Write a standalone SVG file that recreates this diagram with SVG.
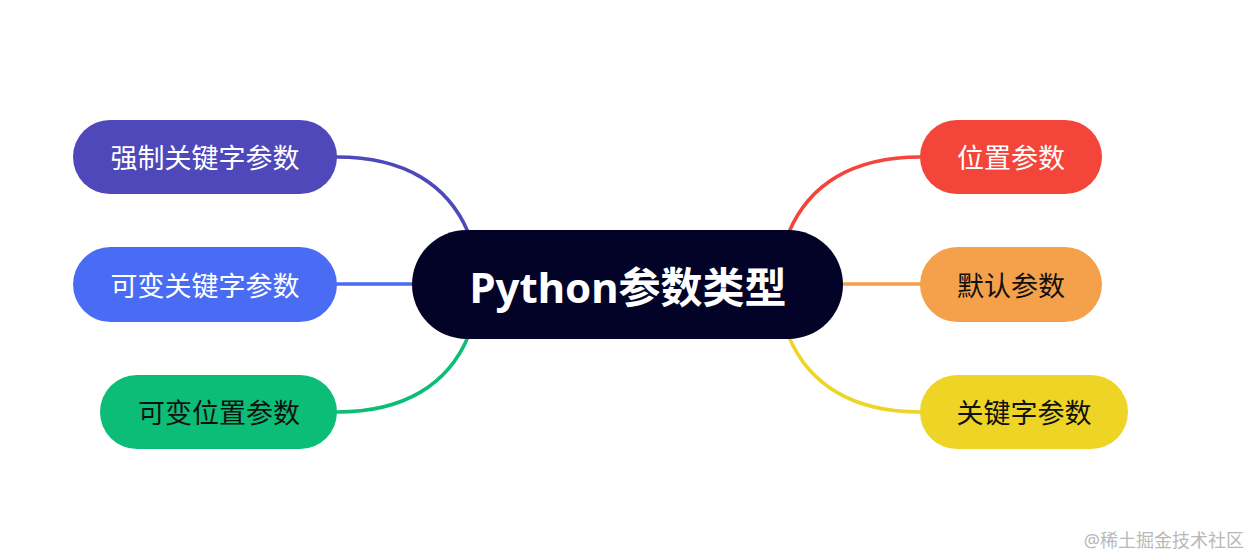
<svg xmlns="http://www.w3.org/2000/svg" width="1251" height="556" viewBox="0 0 1251 556">
<style>
.lbl{font-family:"Noto Sans","Noto Sans CJK SC",sans-serif;font-size:27px;text-anchor:middle;dominant-baseline:central}
.w{fill:#ffffff}
.k{fill:#111111}
.c{fill:none;stroke-width:3.5;stroke-linecap:round}
</style>
<rect width="1251" height="556" fill="#ffffff"/>
<g id="connectors">
<path class="c" stroke="#4f48ba" d="M337 157 C405 157 448 185 468 232"/>
<path class="c" stroke="#4a6cf5" d="M337 284 L414 284"/>
<path class="c" stroke="#0bbd76" d="M337 412 C405 412 448 384 468 337"/>
<path class="c" stroke="#f4453b" d="M920 157 C852 157 809 185 789 232"/>
<path class="c" stroke="#f5a04b" d="M842 284 L920 284"/>
<path class="c" stroke="#eed425" d="M920 412 C852 412 809 384 789 337"/>
</g>
<g id="center">
<rect x="412" y="230" width="431" height="109" rx="54.5" fill="#020327"/>
<text x="628" y="286" fill="#ffffff" font-family="'Noto Sans','Noto Sans CJK SC',sans-serif" font-size="42" font-weight="bold" text-anchor="middle" dominant-baseline="central">Python参数类型</text>
</g>
<g id="n1">
<rect x="73" y="120" width="264" height="74" rx="37" fill="#4f48ba"/>
<text class="lbl w" x="205" y="157">强制关键字参数</text>
</g>
<g id="n2">
<rect x="73" y="247" width="264" height="75" rx="37.5" fill="#4a6cf5"/>
<text class="lbl w" x="205" y="285">可变关键字参数</text>
</g>
<g id="n3">
<rect x="100" y="375" width="237" height="74" rx="37" fill="#0bbd76"/>
<text class="lbl k" x="219" y="412">可变位置参数</text>
</g>
<g id="n4">
<rect x="920" y="120" width="182" height="74" rx="37" fill="#f4453b"/>
<text class="lbl w" x="1011" y="157">位置参数</text>
</g>
<g id="n5">
<rect x="920" y="247" width="182" height="75" rx="37.5" fill="#f5a04b"/>
<text class="lbl k" x="1011" y="285">默认参数</text>
</g>
<g id="n6">
<rect x="920" y="375" width="208" height="74" rx="37" fill="#eed425"/>
<text class="lbl k" x="1024" y="412">关键字参数</text>
</g>
<text x="1244" y="540" fill="#b8b8b8" font-family="'Noto Sans','Noto Sans CJK SC',sans-serif" font-size="18" text-anchor="end" dominant-baseline="central">@稀土掘金技术社区</text>
</svg>
